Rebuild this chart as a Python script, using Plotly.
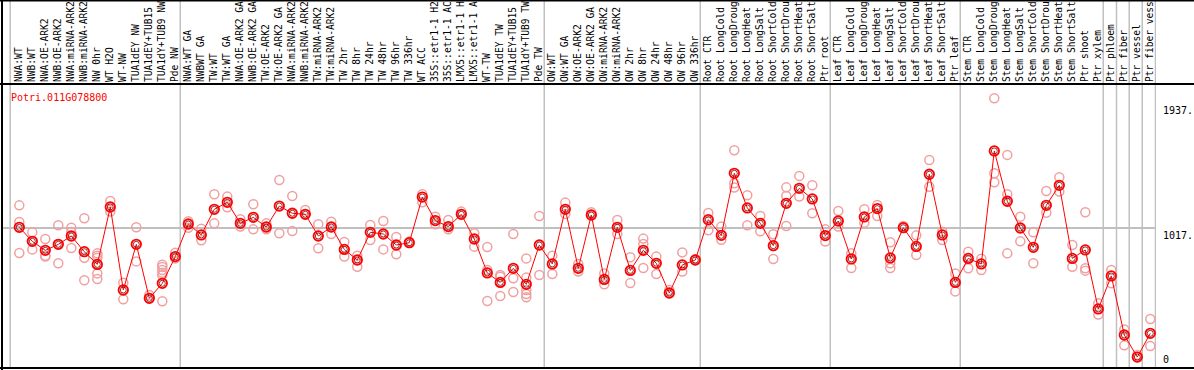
import plotly.graph_objects as go

title = "Potri.011G078800"

labels = [
    "NWA:WT", "NWB:WT", "NWA:OE-ARK2", "NWB:OE-ARK2", "NWA:miRNA-ARK2", "NWB:miRNA-ARK2",
    "NW 0hr", "WT H2O", "WT-NW", "TUA1dEY NW", "TUA1dEY+TUB15 NW", "TUA1dY+TUB9 NW", "Pde NW",
    "NWA:WT GA", "NWBWT GA", "TW:WT", "TW:WT GA", "NWA:OE-ARK2 GA", "NWB:OE-ARK2 GA",
    "TW:OE-ARK2", "TW:OE-ARK2 GA", "NWA:miRNA-ARK2 GA", "NWB:miRNA-ARK2 GA", "TW:miRNA-ARK2",
    "TW:miRNA-ARK2 GA", "TW 2hr", "TW 8hr", "TW 24hr", "TW 48hr", "TW 96hr", "TW 336hr",
    "WT ACC", "35S::etr1-1 H2O", "35S::etr1-1 ACC", "LMX5::etr1-1 H2O", "LMX5::etr1-1 ACC",
    "WT-TW", "TUA1dEY TW", "TUA1dEY+TUB15 TW", "TUA1dY+TUB9 TW", "Pde TW",
    "OW:WT", "OW:WT GA", "OW:OE-ARK2", "OW:OE-ARK2 GA", "OW:miRNA-ARK2", "OW:miRNA-ARK2 GA",
    "OW 2hr", "OW 8hr", "OW 24hr", "OW 48hr", "OW 96hr", "OW 336hr",
    "Root CTR", "Root LongCold", "Root LongDrought", "Root LongHeat", "Root LongSalt",
    "Root ShortCold", "Root ShortDrought", "Root ShortHeat", "Root ShortSalt", "Ptr root",
    "Leaf CTR", "Leaf LongCold", "Leaf LongDrought", "Leaf LongHeat", "Leaf LongSalt",
    "Leaf ShortCold", "Leaf ShortDrought", "Leaf ShortHeat", "Leaf ShortSalt", "Ptr leaf",
    "Stem CTR", "Stem LongCold", "Stem LongDrought", "Stem LongHeat", "Stem LongSalt",
    "Stem ShortCold", "Stem ShortDrought", "Stem ShortHeat", "Stem ShortSalt", "Ptr shoot",
    "Ptr xylem", "Ptr phloem", "Ptr fiber", "Ptr vessel", "Ptr fiber vessel",
]

means = [
    1022, 919, 853, 897, 958, 843, 750, 1171, 562, 897, 501, 611, 807,
    1046, 966, 1154, 1205, 1051, 1095, 1024, 1178, 1125, 1117, 958, 1024, 860, 782, 985,
    973, 892, 909, 1244, 1071, 1027, 1117, 936, 687, 618, 721, 604, 892,
    753, 1154, 721, 1112, 640, 1022, 706, 853, 758, 540, 746, 782,
    1078, 963, 1418, 1164, 1051, 887, 1198, 1308, 1230, 961,
    1068, 790, 1098, 1159, 797, 1019, 882, 1411, 966, 618,
    794, 753, 1582, 1213, 1017, 875, 1183, 1330, 794, 856,
    423, 665, 232, 70, 244,
]

replicates = [
    [1183, 1061, 834], [985, 860, 919], [936, 814, 807], [1037, 758, 897], [1019, 988, 870],
    [1088, 799, 633], [831, 814, 799, 684, 643], [1215, 1137], [616, 494], [1022, 772],
    [525, 501], [748, 731, 709, 689, 670, 479], [836, 794],
    [1066, 1019], [1012, 927], [1264, 1051], [1247, 1169], [1081, 1027], [1191, 1007],
    [1051, 1007], [1369, 978], [1252, 995], [1149, 1117], [1044, 868], [1063, 973],
    [914, 807], [814, 733], [1039, 929], [1068, 860], [951, 824], [917, 909],
    [1264, 1205], [1100, 1044], [1076, 1007], [1137, 1117], [978, 880],
    [878, 709, 481], [672, 660, 518], [973, 648, 547], [794, 653, 562, 533, 508], [1105, 672],
    [814, 679], [1203, 1120], [753, 697], [1132, 1112], [684, 604], [1076, 973],
    [802, 613], [939, 900, 724], [807, 679], [562, 540], [838, 697], [787, 782],
    [1127, 1000], [1027, 931], [1587, 1345, 1313], [1257, 1037], [1105, 993],
    [971, 790], [1315, 1252, 1032], [1399, 1247], [1330, 1125], [1007, 917],
    [1142, 1027], [831, 724], [1154, 1056], [1186, 1105], [912, 758, 724],
    [1032, 1019], [963, 819], [1516, 1320], [990, 929], [684, 552],
    [843, 721], [792, 709], [1968, 1418, 1352], [1553, 1264, 831], [1100, 919],
    [985, 758], [1288, 1129], [1389, 1284], [892, 733], [1132, 721, 704],
    [464, 383], [709, 611], [273, 156], [85, 70], [349, 151],
]

group_breaks = [-0.7, 12.38, 40.38, 52.38, 62.38, 72.38, 83.38, 84.4, 85.38, 86.38, 87.4]
y_ticks = [1937, 1017, 0]
y_tick_text = ["1937.", "1017.", "0"]
label_chars = 14

W, H = 1194, 370
L, R, T, B = 3, 1156, 84, 368

x_idx = list(range(len(labels)))
tick_text = [s[:label_chars] for s in labels]
rep_x, rep_y = [], []
for i, reps in enumerate(replicates):
    for v in reps:
        rep_x.append(i)
        rep_y.append(v)

fig = go.Figure()
fig.add_trace(go.Scatter(
    x=rep_x, y=rep_y, mode="markers",
    marker=dict(symbol="circle-open", size=9, color="#f0a0a0", line=dict(width=1.5)),
    hoverinfo="skip", cliponaxis=False,
))
fig.add_trace(go.Scatter(
    x=x_idx, y=means, mode="lines+markers",
    line=dict(color="#ff0000", width=1),
    marker=dict(symbol="circle-open", size=9.5, color="#ff0000", line=dict(width=1.8)),
    cliponaxis=False,
))
fig.add_trace(go.Scatter(
    x=x_idx, y=means, mode="markers",
    marker=dict(symbol="circle-open", size=6, color="#700000", line=dict(width=0.8)),
    cliponaxis=False,
))

shapes = []
for gx in group_breaks:
    shapes.append(dict(type="line", xref="x", yref="paper", x0=gx, x1=gx, y0=0,
                       y1=B / (B - T), line=dict(color="#c0c0c0", width=1.5), layer="below"))

def px_x(p):
    return (p - L) / (R - L)

def px_y(p):
    return (B - p) / (B - T)

# border lines
for yy in (T, B, 0.5):
    shapes.append(dict(type="line", xref="paper", yref="paper", x0=px_x(0), x1=px_x(W),
                       y0=px_y(yy), y1=px_y(yy), line=dict(color="black", width=2)))
shapes.append(dict(type="line", xref="paper", yref="paper", x0=px_x(2), x1=px_x(2),
                   y0=px_y(0), y1=px_y(H), line=dict(color="black", width=2)))

annotations = [dict(text=title, xref="paper", yref="paper", x=px_x(9), y=px_y(97),
                    xanchor="left", yanchor="middle", showarrow=False,
                    font=dict(family="DejaVu Sans Mono", size=10, color="#ff0000"))]
for v, t in zip(y_ticks, y_tick_text):
    annotations.append(dict(text=t, xref="paper", yref="y", x=1, y=v, xshift=5,
                            xanchor="left", yanchor="bottom" if v == 0 else "top",
                            showarrow=False,
                            font=dict(family="DejaVu Sans Mono", size=10, color="black")))

fig.update_layout(
    width=W, height=H,
    margin=dict(l=L, r=W - R, t=T, b=H - B, pad=0),
    paper_bgcolor="white", plot_bgcolor="white",
    showlegend=False,
    shapes=shapes, annotations=annotations,
    xaxis=dict(range=[(L - 19.3) / 13, (R - 19.3) / 13], side="top",
               tickmode="array", tickvals=x_idx, ticktext=tick_text, tickangle=-90,
               tickfont=dict(family="DejaVu Sans Mono", size=9.6, color="black"),
               ticklabelstandoff=1,
               showgrid=False, zeroline=False, ticks="", automargin=False, showline=False),
    yaxis=dict(range=[-10, 2073], tickmode="array", tickvals=[1017], showticklabels=False,
               showgrid=True, gridcolor="#c0c0c0", gridwidth=1.5, zeroline=False, ticks="",
               automargin=False, showline=False),
)

fig.write_html("out.html", config={"displayModeBar": False},
               post_script="document.body.style.margin='0';document.body.style.overflow='hidden';")
